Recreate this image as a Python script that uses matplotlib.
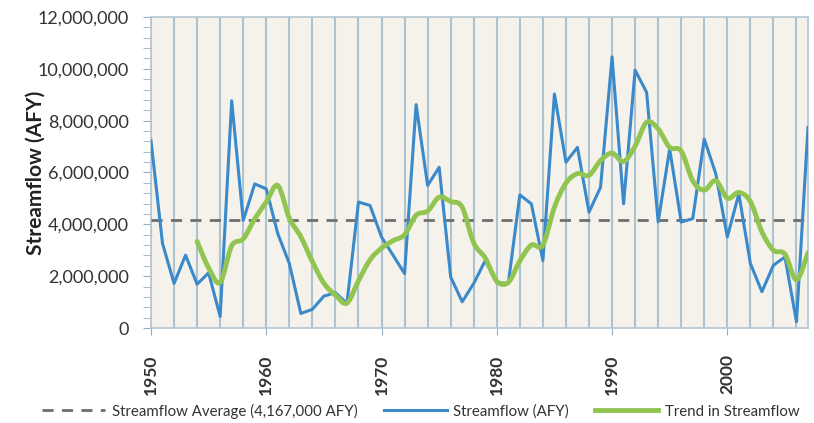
import matplotlib
matplotlib.use('Agg')
import matplotlib.pyplot as plt
from matplotlib.ticker import MultipleLocator, FuncFormatter
from matplotlib.path import Path
from matplotlib.patches import PathPatch
from matplotlib.lines import Line2D

plt.rcParams['font.family'] = ['Lato', 'DejaVu Sans']

years = list(range(1950, 2008))
streamflow = [7.23, 3.26, 1.72, 2.81, 1.69, 2.13, 0.44, 8.77, 4.15, 5.56,
              5.37, 3.64, 2.49, 0.56, 0.72, 1.23, 1.36, 0.95, 4.86, 4.73,
              3.51, 2.81, 2.10, 8.62, 5.50, 6.20, 1.97, 1.01, 1.72, 2.60,
              1.75, 1.72, 5.14, 4.79, 2.60, 9.03, 6.40, 6.97, 4.47, 5.43,
              10.46, 4.79, 9.95, 9.09, 4.09, 6.91, 4.09, 4.22, 7.29, 5.95,
              3.51, 5.18, 2.49, 1.40, 2.42, 2.74, 0.24, 7.74]
trend_years = list(range(1954, 2008))
trend = [3.34, 2.32, 1.76, 3.17, 3.44, 4.21, 4.86, 5.50, 4.24, 3.52,
         2.56, 1.73, 1.27, 0.96, 1.82, 2.63, 3.08, 3.37, 3.60, 4.35,
         4.51, 5.05, 4.88, 4.66, 3.28, 2.70, 1.81, 1.76, 2.59, 3.20,
         3.20, 4.66, 5.59, 5.96, 5.89, 6.46, 6.75, 6.42, 7.02, 7.94,
         7.68, 6.97, 6.83, 5.68, 5.32, 5.69, 5.01, 5.23, 4.88, 3.71,
         3.00, 2.85, 1.86, 2.91]
average = 4167000
legend_labels = ['Streamflow Average (4,167,000 AFY)', 'Streamflow (AFY)', 'Trend in Streamflow']

sf = [v * 1e6 for v in streamflow]
tr = [v * 1e6 for v in trend]


def smooth_path(xs, ys):
    """Excel-style smoothed line through the given points (cubic Bezier)."""
    n = len(xs)
    verts = [(xs[0], ys[0])]
    codes = [Path.MOVETO]
    for i in range(n - 1):
        x0, y0 = (xs[i - 1], ys[i - 1]) if i > 0 else (xs[i], ys[i])
        x1, y1 = xs[i], ys[i]
        x2, y2 = xs[i + 1], ys[i + 1]
        x3, y3 = (xs[i + 2], ys[i + 2]) if i + 2 < n else (x2, y2)
        c1 = (x1 + (x2 - x0) / 6, y1 + (y2 - y0) / 6)
        c2 = (x2 - (x3 - x1) / 6, y2 - (y3 - y1) / 6)
        verts += [c1, c2, (x2, y2)]
        codes += [Path.CURVE4] * 3
    return Path(verts, codes)


fig = plt.figure(figsize=(8.14, 4.23), dpi=100)
ax = fig.add_axes([151/814, 1 - 328/423, (808 - 151)/814, (328 - 17)/423])
ax.set_facecolor('#f4f2ea')

avg_color = '#6e6e6e'
blue = '#3a89cb'
green = '#92c451'

ax.axhline(average, color=avg_color, lw=2, ls=(0, (4, 3)), zorder=3)
ax.plot(years, sf, color=blue, lw=2.2, zorder=4, solid_joinstyle='round')
ax.add_patch(PathPatch(smooth_path(trend_years, tr), fill=False, edgecolor=green,
                       lw=3.5, zorder=5, capstyle='round', joinstyle='round'))

ax.set_xlim(1950, 2007)
ax.set_ylim(0, 12e6)

ax.xaxis.set_major_locator(MultipleLocator(10))
ax.xaxis.set_minor_locator(MultipleLocator(2))
ax.yaxis.set_major_locator(MultipleLocator(2e6))
ax.yaxis.set_minor_locator(MultipleLocator(4e5))
ax.yaxis.set_major_formatter(FuncFormatter(lambda v, p: f'{int(v):,}'))

ax.grid(True, which='both', axis='x', color='#aec3d2', lw=1.5, zorder=1)

ax.tick_params(axis='x', which='major', direction='out', length=5, color='#8fb0c8',
               labelrotation=90, labelsize=12.5, labelcolor='#333333', pad=14)
ax.tick_params(axis='x', which='minor', length=0)
ax.tick_params(axis='y', which='both', direction='out', length=6, color='#8fb0c8',
               labelsize=13, labelcolor='#333333', pad=10)
for lab in ax.get_xticklabels():
    lab.set_fontweight('bold')

for s in ax.spines.values():
    s.set_color('#b5c6d3')
    s.set_linewidth(1.2)

ax.set_ylabel('Streamflow (AFY)', fontsize=15, fontweight='bold', color='#222222')
ax.yaxis.set_label_coords(-0.161, 0.5)

handles = [Line2D([], [], color=avg_color, lw=2, ls=(0, (4, 3))),
           Line2D([], [], color=blue, lw=2.2),
           Line2D([], [], color=green, lw=3.5)]
fig.legend(handles, legend_labels, loc='center', bbox_to_anchor=(0.517, 1 - 411/423),
           ncol=3, frameon=False, fontsize=10.8, handlelength=4.2, handletextpad=0.45,
           columnspacing=1.75, labelcolor='#333333')

fig.savefig('out.png', dpi=100, facecolor='white')
